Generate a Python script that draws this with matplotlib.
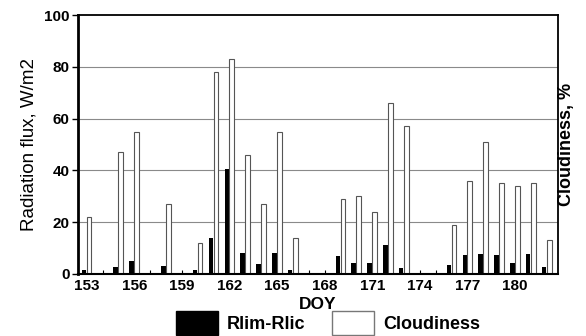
import matplotlib
matplotlib.use("Agg")
from matplotlib import pyplot as plt
from matplotlib.patches import Patch

plt.rcParams["font.family"] = ["Liberation Sans", "DejaVu Sans"]

days = list(range(153, 183))
rlim_rlic = [1.3, 0, 2.8, 4.8, 0, 3.1, 0, 1.3, 13.9, 40.5,
             7.9, 3.9, 8.0, 1.5, 0, 0, 6.8, 4.2, 4.2, 11.2,
             2.3, 0, 0, 3.3, 7.1, 7.6, 7.3, 4.2, 7.6, 2.6]
cloudiness = [22, 0, 47, 55, 0, 27, 0, 12, 78, 83,
              46, 27, 55, 14, 0, 0, 29, 30, 24, 66,
              57, 0, 0, 19, 36, 51, 35, 34, 35, 13]
xtick_days = [153, 156, 159, 162, 165, 168, 171, 174, 177, 180]

fig = plt.figure(figsize=(5.86, 3.36), dpi=100)
ax = fig.add_axes([0.133, 0.185, 0.819, 0.77])

for y in [20, 40, 60, 80]:
    ax.axhline(y, color="#8a8a8a", lw=0.8, zorder=0)

ax.bar([d - 0.17 for d in days], rlim_rlic, width=0.28, color="black", zorder=2)
ax.bar([d + 0.15 for d in days], [c if c > 0 else float("nan") for c in cloudiness],
       width=0.3, color="white", edgecolor="#555555", lw=0.8, zorder=2)

ax.set_xlim(152.45, 182.7)
ax.set_ylim(0, 100)
ax.set_yticks([0, 20, 40, 60, 80, 100])
ax.set_xticks(xtick_days)
ax.set_xticks(days, minor=True)
ax.tick_params(axis="x", which="both", direction="in", length=3, width=0.8, pad=4)
ax.tick_params(axis="y", direction="out", length=4, width=1, pad=2)
for lbl in ax.get_xticklabels() + ax.get_yticklabels():
    lbl.set_fontweight("bold")
    lbl.set_fontsize(11)

ax.spines["left"].set_linewidth(2)
ax.spines["bottom"].set_linewidth(1.5)
ax.spines["top"].set_linewidth(1.3)
ax.spines["right"].set_linewidth(1.3)

ax.set_xlabel("DOY", fontsize=12.5, fontweight="bold", labelpad=2.5)
ax.set_ylabel("Radiation flux, W/m2", fontsize=13.5, labelpad=5)
fig.text(0.966, 0.57, "Cloudiness, %", rotation=90, fontsize=13,
         fontweight="bold", ha="center", va="center")

handles = [Patch(facecolor="black", edgecolor="black"),
           Patch(facecolor="white", edgecolor="#777777")]
fig.legend(handles, ["Rlim-Rlic", "Cloudiness"], loc="upper center",
           bbox_to_anchor=(0.56, 0.1), ncol=2, frameon=False,
           prop={"weight": "bold", "size": 13}, handlelength=2.3,
           handleheight=1.6, columnspacing=1.5, handletextpad=0.5,
           borderpad=0)

fig.savefig("out.png", dpi=100)
plt.close()
